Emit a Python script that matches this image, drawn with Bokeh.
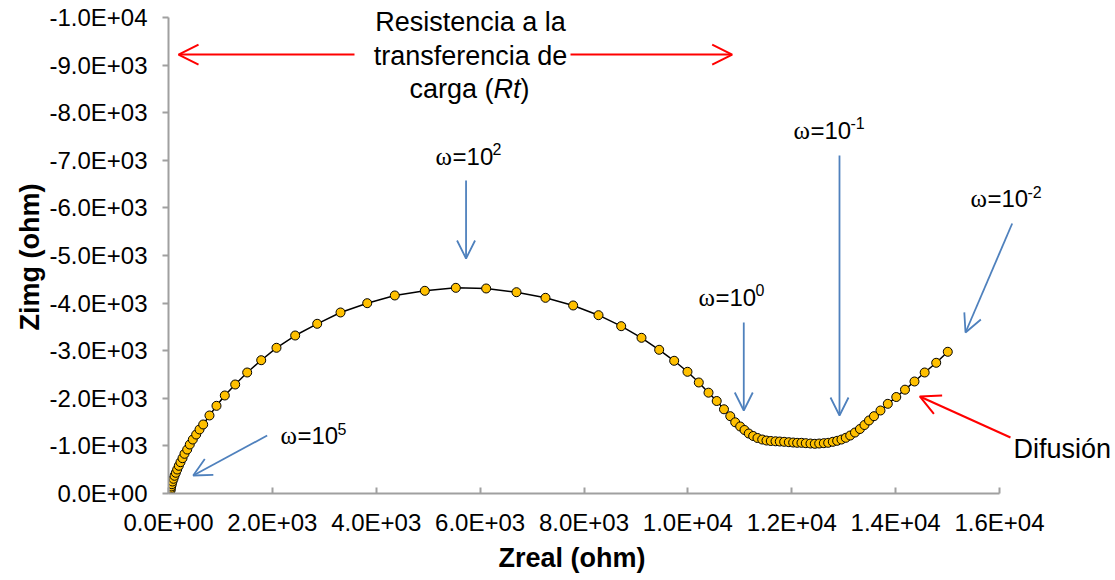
from bokeh.plotting import figure
from bokeh.models import Range1d, FixedTicker, CustomJSTickFormatter, Label, Arrow, OpenHead, Title
from bokeh.embed import file_html
from bokeh.resources import INLINE

# ---- data (Nyquist plot) ----
zreal = [40, 44, 52, 64, 77, 96, 116, 141, 167, 198, 231, 270, 308, 360, 410, 468, 533, 597, 668,
         789, 924, 1084, 1284, 1515, 1785, 2079, 2439, 2863, 3312, 3826, 4357, 4935, 5532, 6116,
         6700, 7258, 7791, 8279, 8716, 9107, 9447, 9736, 9992, 10210, 10397, 10555, 10695, 10816,
         10911, 11007, 11090, 11172, 11257, 11340, 11431, 11513, 11596, 11687, 11769, 11854, 11943,
         12027, 12104, 12187, 12270, 12360, 12443, 12528, 12617, 12701, 12790, 12874, 12957, 13040,
         13125, 13217, 13313, 13400, 13487, 13583, 13708, 13849, 14012, 14180, 14363, 14559, 14781,
         15004]
zimg = [-63, -105, -147, -195, -252, -309, -372, -435, -504, -582, -658, -742, -834, -924, -1029,
        -1134, -1239, -1345, -1450, -1639, -1842, -2059, -2290, -2542, -2800, -3061, -3319, -3565,
        -3803, -3998, -4160, -4258, -4321, -4307, -4229, -4111, -3950, -3746, -3515, -3271, -3019,
        -2788, -2557, -2332, -2118, -1943, -1769, -1624, -1496, -1408, -1334, -1260, -1208, -1166,
        -1134, -1113, -1103, -1097, -1092, -1086, -1078, -1071, -1065, -1065, -1057, -1050, -1044,
        -1050, -1057, -1065, -1086, -1107, -1134, -1170, -1218, -1281, -1355, -1439, -1534, -1624,
        -1744, -1884, -2027, -2181, -2353, -2542, -2746, -2977]

x_ticks = [0, 2000, 4000, 6000, 8000, 10000, 12000, 14000, 16000]
y_ticks = [0, -1000, -2000, -3000, -4000, -5000, -6000, -7000, -8000, -9000, -10000]

FONT = "Liberation Sans"
AXIS_GRAY = "#A0A0A0"
BLUE = "#4F81BD"
RED = "#FF0000"

# frame extends past the axis ends so the annotations in the margins are visible
p = figure(frame_width=947, frame_height=493, output_backend="svg", toolbar_location=None,
           x_range=Range1d(0, 18233), y_range=Range1d(0, -10357),
           min_border_left=168, min_border_right=0, min_border_top=0, min_border_bottom=0)
p.outline_line_color = None
p.xgrid.visible = False
p.ygrid.visible = False

fmt = CustomJSTickFormatter(code="""
const s = tick.toExponential(1);
const parts = s.split('e');
let e = parseInt(parts[1]);
const sign = e < 0 ? '-' : '+';
e = Math.abs(e);
return parts[0] + 'E' + sign + (e < 10 ? '0' + e : '' + e);
""")

for ax, ticks in ((p.xaxis[0], x_ticks), (p.yaxis[0], y_ticks)):
    ax.ticker = FixedTicker(ticks=ticks)
    ax.bounds = (min(ticks), max(ticks))
    ax.formatter = fmt
    ax.minor_tick_line_color = None
    ax.axis_line_color = AXIS_GRAY
    ax.axis_line_width = 2
    ax.major_tick_line_color = AXIS_GRAY
    ax.major_tick_line_width = 2
    ax.major_label_text_font = FONT
    ax.major_label_text_font_size = "24px"
    ax.major_label_text_color = "black"

p.xaxis.major_tick_in = 6
p.xaxis.major_tick_out = 0
p.xaxis.major_label_standoff = 15

p.yaxis.major_tick_in = 0
p.yaxis.major_tick_out = 6
p.yaxis.major_label_standoff = 15

# axis titles (as side titles so they can be positioned along the axis)
p.add_layout(Title(text="Zreal (ohm)", align="left", offset=330, standoff=4,
                   text_font=FONT, text_font_size="27px", text_font_style="bold",
                   text_color="black"), "below")
p.add_layout(Title(text="Zimg (ohm)", align="left", offset=163, standoff=4,
                   text_font=FONT, text_font_size="27px", text_font_style="bold",
                   text_color="black"), "left")

# ---- series ----
p.line(zreal, zimg, line_color="black", line_width=1.5)
p.scatter(zreal, zimg, size=9, fill_color="#FFC000", line_color="black", line_width=1)

# ---- annotations ----
def lab(x, y, text, size="23px", style="normal", xo=0, yo=0, align="left", font=FONT):
    p.add_layout(Label(x=x, y=y, text=text, text_font=font, text_font_size=size,
                       text_font_style=style, text_color="black", text_align=align,
                       text_baseline="middle", x_offset=xo, y_offset=yo))

def arrow(x0, y0, x1, y1, color, w=1.8, size=18):
    p.add_layout(Arrow(x_start=x0, y_start=y0, x_end=x1, y_end=y1, line_color=color,
                       line_width=w, end=OpenHead(size=size, line_color=color, line_width=w)))

# charge transfer resistance
lab(5814, -9895, "Resistencia a la", size="27px", align="center")
lab(5814, -9201, "transferencia de", size="27px", align="center")
lab(5814, -8508, "carga (", size="27px", xo=-61)
lab(5814, -8508, "Rt", size="27px", style="italic", xo=23)
lab(5814, -8508, ")", size="27px", xo=50)
arrow(3581, -9222, 193, -9222, RED, w=2, size=20)
arrow(7740, -9222, 10853, -9222, RED, w=2, size=20)

# frequency markers
def omega(x, y, exp):
    lab(x, y, "ω", size="25px", font="Liberation Serif")
    lab(x, y, "=10", size="24px", xo=17)
    lab(x, y, exp, size="16px", xo=57, yo=7)

omega(5141, -7080, "2")
omega(10204, -4118, "0")
omega(12033, -7626, "-1")
omega(15441, -6197, "-2")
omega(2156, -1218, "5")

arrow(5729, -6576, 5729, -4937, BLUE)
arrow(11076, -3592, 11076, -1744, BLUE)
arrow(12919, -7101, 12919, -1639, BLUE)
arrow(16244, -5672, 15345, -3382, BLUE)
arrow(1900, -1218, 476, -378, BLUE)

# diffusion
lab(16269, -945, "Difusión", size="27px")
arrow(16211, -1176, 14465, -2038, RED, w=2, size=20)

open("out.html", "w").write(file_html(p, INLINE))
